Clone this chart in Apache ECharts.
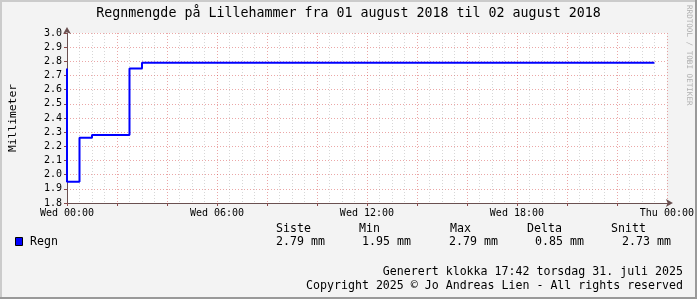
<!DOCTYPE html>
<html>
<head>
<meta charset="utf-8">
<script src="https://cdn.jsdelivr.net/npm/echarts@6/dist/echarts.min.js"></script>
<style>
html,body{margin:0;padding:0;background:#F3F3F3;}
#c{width:697px;height:299px;}
</style>
</head>
<body>
<div id="c"></div>
<script>
const titleText = 'Regnmengde på Lillehammer fra 01 august 2018 til 02 august 2018';
const yName = 'Millimeter';
const seriesName = 'Regn';
// time in hours since Wed 00:00
const times = [0, 0, 0.5, 1.0, 2.5, 3.0, 23.5];
const values = [2.75, 1.95, 2.26, 2.28, 2.75, 2.79, 2.79];
const xTickLabels = {0: 'Wed 00:00', 6: 'Wed 06:00', 12: 'Wed 12:00', 18: 'Wed 18:00', 24: 'Thu 00:00'};
const statHeaders = ['Siste', 'Min', 'Max', 'Delta', 'Snitt'];
const statValues = ['2.79 mm', '1.95 mm', '2.79 mm', '0.85 mm', '2.73 mm'];
const footer1 = 'Generert klokka 17:42 torsdag 31. juli 2025';
const footer2 = 'Copyright 2025 © Jo Andreas Lien - All rights reserved';
const sideText = 'RRDTOOL / TOBI OETIKER';

const MONO = '"DejaVu Sans Mono", monospace';
const chart = echarts.init(document.getElementById('c'), null, {renderer: 'canvas'});

const headerX = [276, 359, 450, 527, 611];
const valueX = [276, 362, 449, 535, 622];
const graphics = [
  // frame
  {type:'rect', shape:{x:0,y:0,width:697,height:2}, style:{fill:'#CBCBCB'}, silent:true},
  {type:'rect', shape:{x:0,y:0,width:2,height:299}, style:{fill:'#CBCBCB'}, silent:true},
  {type:'rect', shape:{x:0,y:297,width:697,height:2}, style:{fill:'#999999'}, silent:true},
  {type:'rect', shape:{x:695,y:0,width:2,height:299}, style:{fill:'#999999'}, silent:true},
  {type:'text', left:'center', top:7, style:{text:titleText, font:'13.3px '+MONO, fill:'#000'}},
  {type:'text', x:689, y:5, rotation:-Math.PI/2, style:{text:sideText, font:'7.6px '+MONO, fill:'#B0B0B0', textAlign:'left', textVerticalAlign:'middle'}},
  {type:'rect', shape:{x:15.5,y:237.5,width:7,height:8}, style:{fill:'#0000FF', stroke:'#000', lineWidth:1}},
  {type:'text', x:30, y:242, style:{text:seriesName, font:'11.6px '+MONO, fill:'#000', textVerticalAlign:'middle'}},
  {type:'text', right:14, top:266, style:{text:footer1, font:'11.6px '+MONO, fill:'#000'}},
  {type:'text', right:14, top:280, style:{text:footer2, font:'11.6px '+MONO, fill:'#000'}}
];
statHeaders.forEach((h,i)=>graphics.push({type:'text', x:headerX[i], y:229, style:{text:h, font:'11.6px '+MONO, fill:'#000', textVerticalAlign:'middle'}}));
statValues.forEach((v,i)=>graphics.push({type:'text', x:valueX[i], y:242, style:{text:v, font:'11.6px '+MONO, fill:'#000', textVerticalAlign:'middle'}}));

const data = times.map((t,i)=>[t, values[i]]);

chart.setOption({
  backgroundColor: '#F3F3F3',
  animation: false,
  grid: {left:67, top:33, width:600, height:170, backgroundColor:'#FFFFFF', show:true, borderWidth:0},
  xAxis: {
    type:'value', min:0, max:24, interval:2,
    axisLine:{show:true, lineStyle:{color:'#6a5050', width:1}, symbol:['none','arrow'], symbolSize:[6,7], symbolOffset:[0,6]},
    axisTick:{show:true, length:3, lineStyle:{color:'#8a4a4a'}},
    axisLabel:{fontFamily:MONO, fontSize:10, color:'#000', margin:5,
      formatter: v => xTickLabels[v] !== undefined ? xTickLabels[v] : ''},
    splitLine:{show:true, lineStyle:{color:'rgba(210,60,60,0.45)', type:[1,2], width:1}},
    minorTick:{show:false, splitNumber:4},
    minorSplitLine:{show:true, lineStyle:{color:'rgba(140,140,140,0.35)', type:[1,2], width:1}}
  },
  yAxis: {
    type:'value', min:1.8, max:3.0, interval:0.1,
    name: yName, nameLocation:'middle', nameRotate:90, nameGap:48,
    nameTextStyle:{fontFamily:MONO, fontSize:11.3, color:'#000'},
    axisLine:{show:true, lineStyle:{color:'#6a5050', width:1}, symbol:['none','arrow'], symbolSize:[6,7], symbolOffset:[0,6]},
    axisTick:{show:true, length:3, lineStyle:{color:'#8a4a4a'}},
    axisLabel:{fontFamily:MONO, fontSize:10, color:'#000', margin:5, formatter: v => v.toFixed(1)},
    splitLine:{show:true, lineStyle:{color:'rgba(210,60,60,0.45)', type:[1,2], width:1}}
  },
  series: [{
    name: seriesName, type:'line', step:'end', data: data,
    showSymbol:false, lineStyle:{color:'#0000FF', width:2}, itemStyle:{color:'#0000FF'}, z:5
  }],
  graphic: graphics
});
</script>
</body>
</html>
